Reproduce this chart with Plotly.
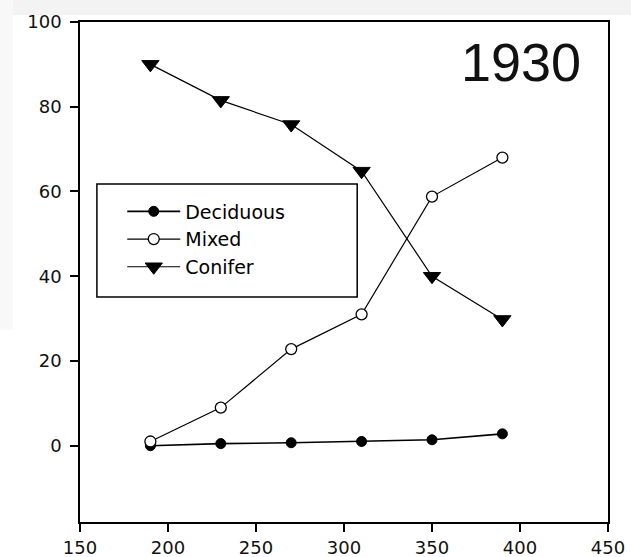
import plotly.graph_objects as go

# Stand size classes (x) and share of each forest type (%)
size_class = [190, 230, 270, 310, 350, 390]
deciduous = [0.0, 0.5, 0.7, 1.0, 1.4, 2.8]
mixed = [1.0, 9.0, 22.8, 31.0, 58.8, 68.0]
conifer = [90.0, 81.5, 75.8, 64.8, 40.0, 29.8]

x_ticks = [150, 200, 250, 300, 350, 400, 450]
y_ticks = [0, 20, 40, 60, 80, 100]
year_label = "1930"

TICK_FONT = "DejaVu Sans, Verdana, sans-serif"
TITLE_FONT = "Liberation Sans, Arial, sans-serif"

fig = go.Figure()

fig.add_trace(go.Scatter(
    x=size_class, y=deciduous, name="Deciduous", mode="lines+markers",
    line=dict(color="black", width=1.6),
    marker=dict(symbol="circle", size=10, color="black",
                line=dict(color="black", width=1)),
))
fig.add_trace(go.Scatter(
    x=size_class, y=mixed, name="Mixed", mode="lines+markers",
    line=dict(color="black", width=1.2),
    marker=dict(symbol="circle", size=11, color="white",
                line=dict(color="black", width=1.3)),
))
fig.add_trace(go.Scatter(
    x=size_class, y=conifer, name="Conifer", mode="lines+markers",
    line=dict(color="black", width=1.2),
    marker=dict(symbol="triangle-down", size=15, color="black",
                line=dict(color="black", width=1)),
))

axis_common = dict(
    showgrid=False, zeroline=False, showline=True, mirror=True,
    linecolor="black", linewidth=1.5, automargin=False,
    ticks="outside", ticklen=8, tickwidth=1.5, tickcolor="black",
    tickfont=dict(family=TICK_FONT, size=18, color="#111111"),
)

fig.update_layout(
    width=631, height=557,
    margin=dict(l=80, r=23, t=22, b=35),
    paper_bgcolor="white", plot_bgcolor="white",
    showlegend=True,
    legend=dict(
        x=0.08, y=0.659, xanchor="left", yanchor="top",
        bgcolor="rgba(0,0,0,0)", borderwidth=0,
        font=dict(family=TICK_FONT, size=19, color="black"),
        itemwidth=53, tracegroupgap=0,
    ),
    xaxis=dict(range=[150, 450], tickvals=x_ticks, ticklabelstandoff=1,
               **axis_common),
    yaxis=dict(range=[-18, 100], tickvals=y_ticks, ticklabelstandoff=5,
               **axis_common),
    annotations=[dict(
        text=year_label, xref="paper", yref="paper", x=0.953, y=0.985,
        xanchor="right", yanchor="top", showarrow=False,
        font=dict(family=TITLE_FONT, size=54, color="#111111"),
    )],
    shapes=[
        # legend frame
        dict(type="rect", xref="paper", yref="paper",
             x0=0.032, x1=0.525, y0=0.45, y1=0.676,
             line=dict(color="black", width=1.5), fillcolor="rgba(0,0,0,0)"),
        # light band along the top edge of the page
        dict(type="rect", xref="paper", yref="paper", layer="below",
             x0=-0.2, x1=1.1, y0=1.014, y1=1.05,
             line=dict(width=0), fillcolor="#f3f3f3"),
        # faint strip down the left edge
        dict(type="rect", xref="paper", yref="paper", layer="below",
             x0=-0.16, x1=-0.127, y0=0.385, y1=1.05,
             line=dict(width=0), fillcolor="#f8f8f8"),
    ],
)

fig.write_html("out.html")
